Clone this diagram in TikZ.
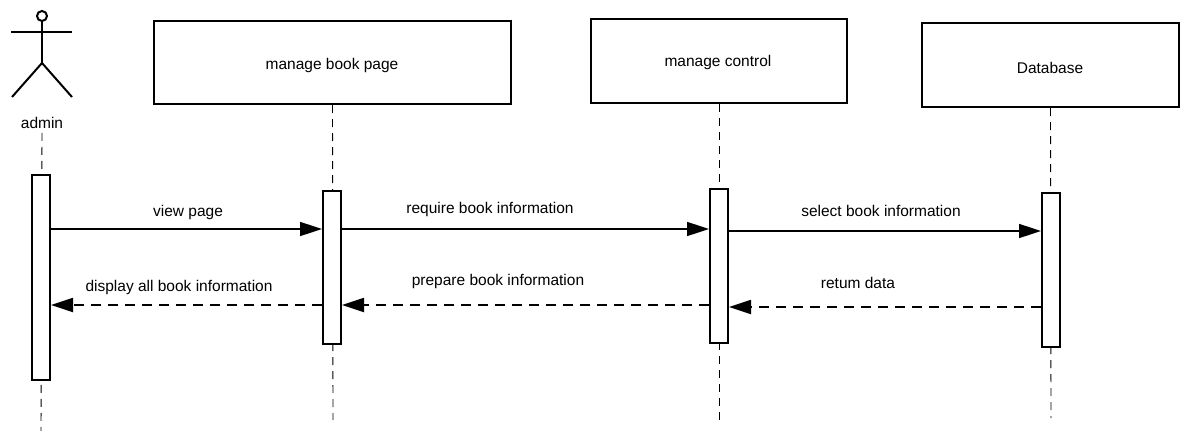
\documentclass[tikz,border=0pt]{standalone}
\usepackage{fontspec}
\setmainfont{Liberation Sans}
\usetikzlibrary{arrows.meta}
\begin{document}
\begin{tikzpicture}[x=1pt,y=-1pt,
  every node/.style={font=\fontsize{15.5}{18}\selectfont, inner sep=0pt},
  objbox/.style={draw, line width=2pt, fill=white},
  actbar/.style={draw, line width=2pt, fill=white, minimum width=18pt},
  lifeln/.style={line width=0.9pt, dash pattern=on 8pt off 6pt},
  msgcall/.style={line width=1.6pt, -{Triangle[length=22pt,width=14pt]}},
  msgret/.style={line width=1.8pt, dash pattern=on 10pt off 7pt, -{Triangle[length=22pt,width=14pt]}},
  stick/.style={line width=2pt}]
\useasboundingbox (0,0) rectangle (1184,431);
% actor
\node[draw, circle, line width=2pt, minimum size=10pt] (head) at (42,16) {};
\coordinate (hip) at (42,63);
\coordinate (armL) at (11,32);
\coordinate (armR) at (72,32);
\coordinate (legL) at (12,97);
\coordinate (legR) at (72,97);
\draw[stick] (head.south) -- (hip);
\draw[stick] (armL) -- (armR);
\draw[stick] (legL) -- (hip) -- (legR);
\node (admin) at (42,123) {admin};
% object boxes
\node[objbox, minimum width=357pt, minimum height=83pt] (b1) at (332.5,62.5) {};
\node at (332,65) {manage book page};
\node[objbox, minimum width=256pt, minimum height=84pt] (b2) at (719,61) {};
\node at (718,62) {manage control};
\node[objbox, minimum width=257pt, minimum height=84pt] (b3) at (1050.5,65) {};
\node at (1050,68) {Database};
% lifeline ends
\coordinate (e0) at (41,431);
\coordinate (e1) at (333,420);
\coordinate (e2) at (719,421);
\coordinate (e3) at (1051,418);
\draw[lifeln] (admin.south) ++(0,4) -- (e0);
\draw[lifeln] (b1.south) -- (e1);
\draw[lifeln] (b2.south) -- (e2);
\draw[lifeln] (b3.south) -- (e3);
% activations
\node[actbar, minimum height=205pt] (a0) at (41,277.5) {};
\node[actbar, minimum height=153pt] (a1) at (332,267.5) {};
\node[actbar, minimum height=154pt] (a2) at (719,266) {};
\node[actbar, minimum height=154pt] (a3) at (1051,270) {};
% message rows
\coordinate (m1) at (0,229);
\coordinate (m2) at (0,231);
\coordinate (r1) at (0,305);
\coordinate (r2) at (0,307);
\draw[msgcall] (a0.east |- m1) -- (a1.west |- m1);
\draw[msgcall] (a1.east |- m1) -- (a2.west |- m1);
\draw[msgcall] (a2.east |- m2) -- (a3.west |- m2);
\draw[msgret] (a3.west |- r2) -- (a2.east |- r2);
\draw[msgret] (a2.west |- r1) -- (a1.east |- r1);
\draw[msgret] (a1.west |- r1) -- (a0.east |- r1);
% labels
\node at (188,212) {view page};
\node at (490,209) {require book information};
\node at (881,211) {select book information};
\node at (179,287) {display all book information};
\node at (498,281) {prepare book information};
\node at (858,283) {retum data};
\end{tikzpicture}
\end{document}
